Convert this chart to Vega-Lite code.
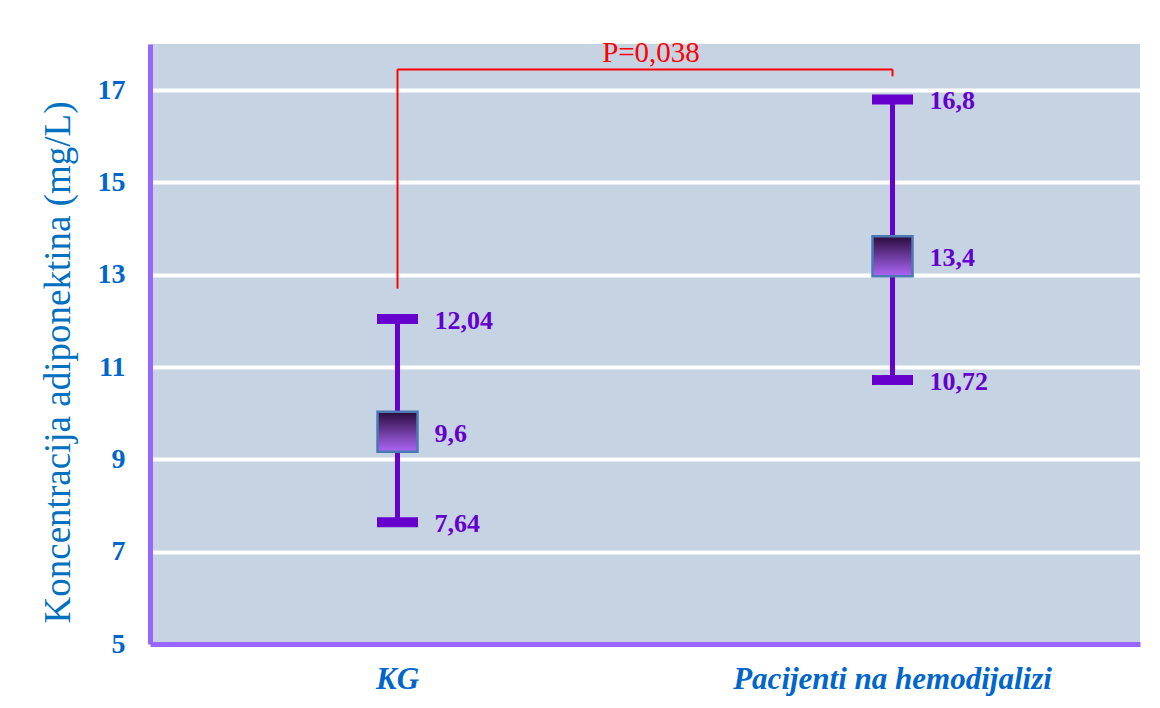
{
  "$schema": "https://vega.github.io/schema/vega-lite/v6.json",
  "width": 990,
  "height": 600,
  "padding": {"left": 39, "top": 39, "right": 20, "bottom": 5},
  "background": "white",
  "config": {
    "view": {"fill": "#c6d3e3", "stroke": null},
    "locale": {"number": {"decimal": ",", "thousands": ".", "grouping": [3], "currency": ["", ""]}}
  },
  "datasets": {
    "stats": [
      {"group": "KG", "low": 7.64, "mean": 9.6, "high": 12.04},
      {"group": "Pacijenti na hemodijalizi", "low": 10.72, "mean": 13.4, "high": 16.8}
    ],
    "bracketV": [
      {"group": "KG", "y": 12.7, "y2": 17.45},
      {"group": "Pacijenti na hemodijalizi", "y": 17.3, "y2": 17.45}
    ],
    "bracketH": [
      {"group": "KG", "group2": "Pacijenti na hemodijalizi", "y": 17.45, "label": "P=0,038", "ty": 17.6}
    ]
  },
  "encoding": {
    "x": {
      "field": "group",
      "type": "nominal",
      "sort": null,
      "scale": {"type": "band", "paddingInner": 0, "paddingOuter": 0, "domain": ["KG", "Pacijenti na hemodijalizi"]},
      "axis": {
        "title": null,
        "labelAngle": 0,
        "labelLimit": 0,
        "labelFont": "Liberation Serif",
        "labelFontSize": 31,
        "labelFontStyle": "italic",
        "labelFontWeight": "bold",
        "labelColor": "#0066cc",
        "ticks": false,
        "domainColor": "#9966ff",
        "domainWidth": 5,
        "labelPadding": 20,
        "grid": false
      }
    }
  },
  "layer": [
    {
      "data": {"name": "bracketV"},
      "mark": {"type": "rule", "color": "#ff0000", "strokeWidth": 2},
      "encoding": {
        "y": {
          "field": "y",
          "type": "quantitative",
          "scale": {"domain": [5, 18], "nice": false, "zero": false},
          "axis": {
            "values": [5, 7, 9, 11, 13, 15, 17],
            "title": "Koncentracija adiponektina (mg/L)",
            "titleFont": "Liberation Serif",
            "titleFontWeight": "normal",
            "titleFontSize": 37,
            "titleColor": "#0070c0",
            "titlePadding": 20,
            "titleY": 318,
            "labelFont": "Liberation Serif",
            "labelFontWeight": "bold",
            "labelFontSize": 28,
            "labelColor": "#0066cc",
            "labelPadding": 25,
            "ticks": false,
            "domainColor": "#9966ff",
            "domainWidth": 5,
            "gridColor": "white",
            "gridWidth": 4,
            "gridOpacity": 1
          }
        },
        "y2": {"field": "y2"}
      }
    },
    {
      "data": {"name": "bracketH"},
      "mark": {"type": "rule", "color": "#ff0000", "strokeWidth": 2},
      "encoding": {
        "x2": {"field": "group2"},
        "y": {"field": "y", "type": "quantitative"}
      }
    },
    {
      "data": {"name": "bracketH"},
      "mark": {"type": "text", "color": "#ff0000", "font": "Liberation Serif", "fontSize": 29, "align": "center", "baseline": "alphabetic", "dx": 6},
      "encoding": {
        "x": {"field": "group", "type": "nominal", "bandPosition": 1},
        "y": {"field": "ty", "type": "quantitative"},
        "text": {"field": "label"}
      }
    },
    {
      "data": {"name": "stats"},
      "mark": {"type": "rule", "color": "#6600cc", "strokeWidth": 5},
      "encoding": {
        "y": {"field": "low", "type": "quantitative"},
        "y2": {"field": "high"}
      }
    },
    {
      "data": {"name": "stats"},
      "mark": {"type": "tick", "orient": "horizontal", "size": 41, "thickness": 10, "color": "#6600cc", "opacity": 1},
      "encoding": {
        "y": {"field": "low", "type": "quantitative"}
      }
    },
    {
      "data": {"name": "stats"},
      "mark": {"type": "tick", "orient": "horizontal", "size": 41, "thickness": 10, "color": "#6600cc", "opacity": 1},
      "encoding": {
        "y": {"field": "high", "type": "quantitative"}
      }
    },
    {
      "data": {"name": "stats"},
      "mark": {
        "type": "point",
        "shape": "square",
        "size": 1600,
        "filled": true,
        "opacity": 1,
        "fill": {
          "x1": 0, "y1": 0, "x2": 0, "y2": 1,
          "gradient": "linear",
          "stops": [
            {"offset": 0, "color": "#2a0c3c"},
            {"offset": 0.5, "color": "#6b3a9c"},
            {"offset": 1, "color": "#ad66f5"}
          ]
        },
        "stroke": "#4a7ab4",
        "strokeWidth": 2.5
      },
      "encoding": {
        "y": {"field": "mean", "type": "quantitative"}
      }
    },
    {
      "data": {"name": "stats"},
      "transform": [{"fold": ["low", "mean", "high"], "as": ["stat", "value"]}],
      "mark": {"type": "text", "align": "left", "baseline": "middle", "dx": 37, "dy": 2, "font": "Liberation Serif", "fontWeight": "bold", "fontSize": 26, "color": "#6600cc"},
      "encoding": {
        "y": {"field": "value", "type": "quantitative"},
        "text": {"field": "value", "type": "quantitative"}
      }
    }
  ]
}
